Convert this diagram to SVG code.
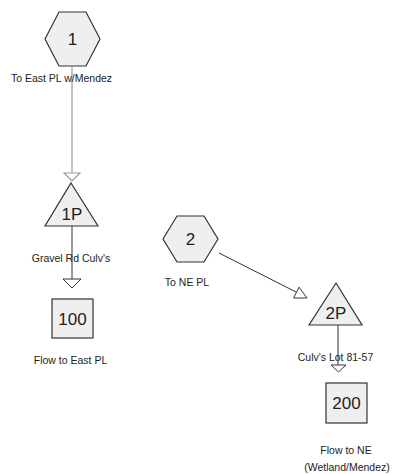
<svg xmlns="http://www.w3.org/2000/svg" width="401" height="474" viewBox="0 0 401 474">
<style>
.shape{fill:#efefef;stroke:#333;stroke-width:1.2}
.num{font-family:"Liberation Sans",Arial,sans-serif;font-size:17px;fill:#222;text-anchor:middle}
.lbl{font-family:"Liberation Sans",Arial,sans-serif;font-size:10.5px;fill:#222;text-anchor:middle}
.conn{fill:none;stroke:#333;stroke-width:1}
.head{fill:#fff;stroke:#333;stroke-width:1}
.gconn{fill:none;stroke:#999;stroke-width:1.2}
.ghead{fill:#fff;stroke:#999;stroke-width:1.2}
</style>
<rect width="401" height="474" fill="#fff"/>
<g id="connectors">
<line class="gconn" x1="72" y1="67" x2="72" y2="173"/>
<polygon class="ghead" points="64,173 80,173 72,181"/>
<line class="conn" x1="72" y1="226" x2="72" y2="279"/>
<polygon class="head" points="63,279 81,279 72,288"/>
<line class="conn" x1="219" y1="253" x2="300" y2="294"/>
<polygon class="head" points="307,298 293.6,298 299,287.2"/>
<line class="conn" x1="338" y1="325" x2="338" y2="365"/>
<polygon class="head" points="331,365 346,365 338.5,372"/>
</g>
<g id="node-1">
<polygon class="shape" points="45,39 59,12 86,12 100,39 86,66 59,66"/>
<text class="num" x="72.5" y="45">1</text>
<text class="lbl" x="61.5" y="82">To East PL w/Mendez</text>
</g>
<g id="node-1P">
<polygon class="shape" points="71,183 98,226 45,226"/>
<text class="num" x="72" y="220">1P</text>
<text class="lbl" x="71" y="262">Gravel Rd Culv's</text>
</g>
<g id="node-100">
<rect class="shape" x="52" y="299" width="41" height="39"/>
<text class="num" x="72.5" y="324.5">100</text>
<text class="lbl" x="70.5" y="364">Flow to East PL</text>
</g>
<g id="node-2">
<polygon class="shape" points="163,239 177,216 204,216 218,239 204,262 177,262"/>
<text class="num" x="190.5" y="245">2</text>
<text class="lbl" x="187" y="286">To NE PL</text>
</g>
<g id="node-2P">
<polygon class="shape" points="336,283 362,325 309,325"/>
<text class="num" x="336" y="319">2P</text>
<text class="lbl" x="335.5" y="361">Culv's Lot 81-57</text>
</g>
<g id="node-200">
<rect class="shape" x="326" y="383" width="41" height="40"/>
<text class="num" x="346.5" y="409">200</text>
<text class="lbl" x="346" y="454">Flow to NE</text>
<text class="lbl" x="347" y="471">(Wetland/Mendez)</text>
</g>
</svg>
